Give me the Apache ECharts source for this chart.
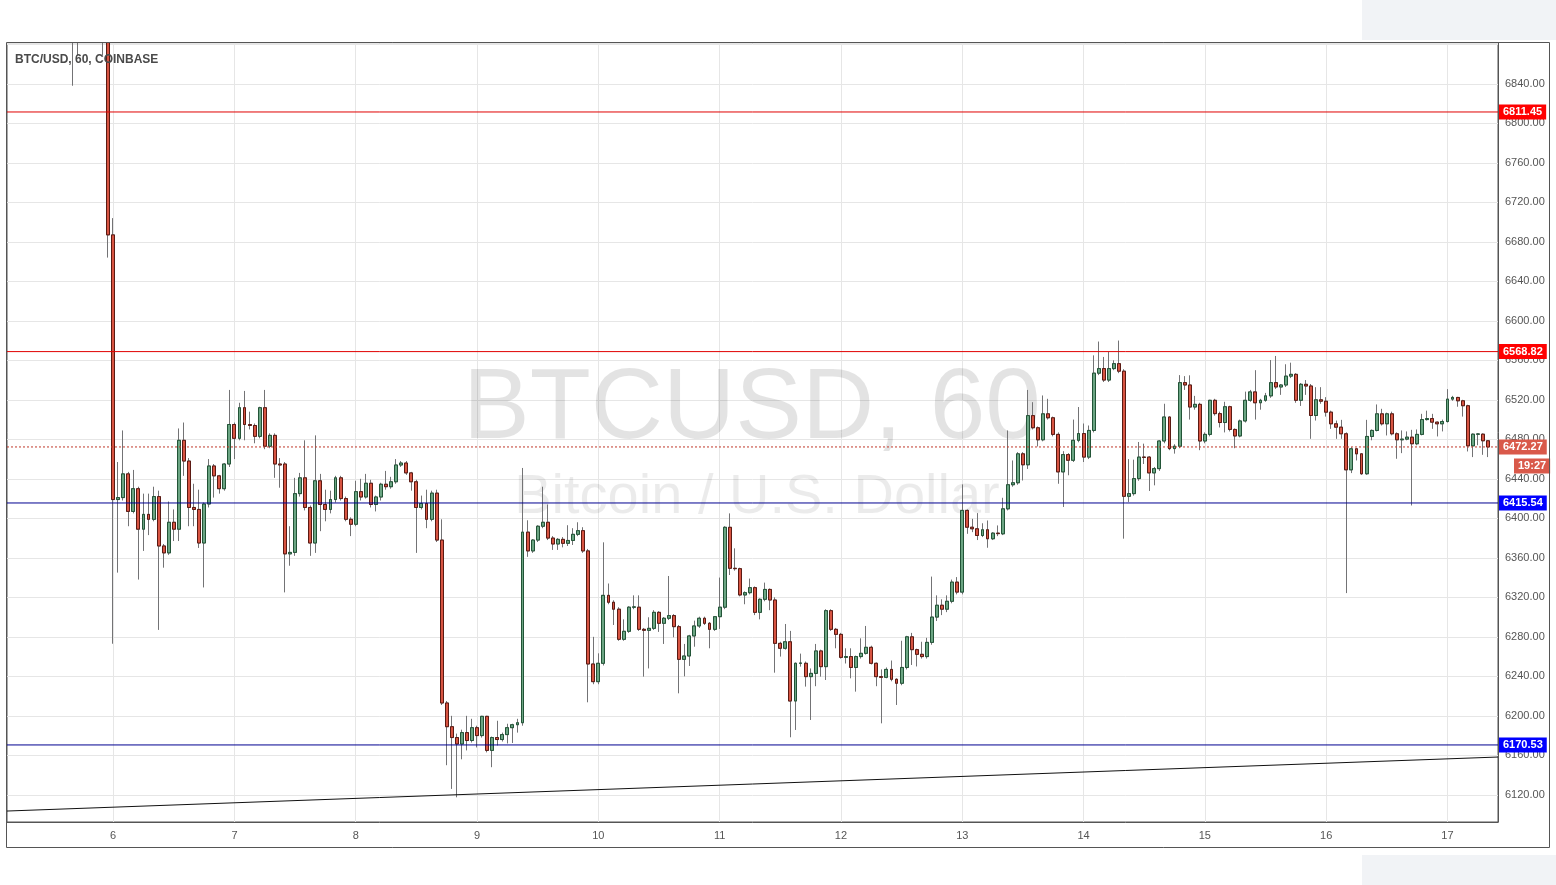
<!DOCTYPE html>
<html><head><meta charset="utf-8">
<script src="https://cdn.jsdelivr.net/npm/echarts@6/dist/echarts.min.js"></script>
<style>html,body{margin:0;padding:0;background:#fff;}#c{width:1556px;height:885px;}</style>
</head><body><div id="c"></div>
<script>
// hourly slots starting at day 5 03:00
const startDay = 5, startHour = 3, slotCount = 296;
const categories = [];
for (let k = 0; k < slotCount; k++) {
  const t = startHour + k;
  categories.push((startDay + Math.floor(t / 24)) + ' ' + String(t % 24).padStart(2, '0') + ':00');
}
// [open, close, low, high]
const ohlc = [
[7385,7370,7355,7400],[7370,7380,7360,7395],[7380,7360,7350,7390],[7360,7365,7345,7378],
[7365,7340,7330,7372],[7340,7352,7332,7360],[7352,7335,7325,7360],[7335,7310,7300,7345],
[7310,7320,7300,7330],[7320,7290,7280,7325],[7290,7260,7250,7300],[7260,7200,7190,7270],
[7200,7060,7040,7210],[7060,6960,6838,7070],[6960,6990,6869,7010],[6990,6975,6955,7000],
[6975,6985,6960,6995],[6985,6960,6950,6990],[6960,6970,6945,6980],[6970,6950,6869,6985],
[6950,6687,6664,6955],
[6687,6419,6273,6704],[6419,6421,6345,6457],[6421,6445,6418,6489],[6445,6407,6392,6447],
[6407,6430,6405,6449],[6430,6389,6338,6432],[6389,6404,6367,6425],[6404,6399,6383,6425],
[6399,6422,6397,6432],[6422,6372,6287,6428],[6372,6365,6350,6374],[6365,6396,6363,6417],
[6396,6389,6377,6409],[6389,6479,6377,6491],[6479,6458,6443,6497],[6458,6411,6392,6461],
[6411,6409,6392,6435],[6409,6375,6370,6429],[6375,6414.5,6330,6416],[6414.5,6453,6411,6460],
[6453,6443,6421,6455],[6443,6430,6425,6444],[6430,6455,6428,6456],[6455,6495,6452,6530],
[6495,6481,6460,6497],[6481,6512,6479,6517],[6512,6495,6479,6529],[6495,6494,6490,6508],
[6494,6483,6476,6496],[6483,6512,6481,6513],[6512,6473,6470,6530],[6473,6484,6471,6486],
[6484,6455,6441,6486],[6455,6454,6431,6461],[6455,6364,6325,6457],[6364,6365.5,6352,6392],
[6365.5,6425,6362,6441],[6425,6441,6422,6446],[6441,6411,6408,6479],[6411,6375,6362,6413],
[6375,6438,6365,6484],[6438,6414,6387,6445],[6414,6409,6397,6429],[6409,6419,6405,6428],
[6419,6441,6416,6443],[6441,6420,6418,6443],[6420,6399,6397,6422],[6399,6394,6382,6401],
[6394,6427,6392,6438],[6427,6421.6,6418,6440],[6421.6,6435.5,6420,6445],[6435.5,6414,6411,6439],
[6414,6421.6,6407,6423],[6421.6,6434.5,6418,6436],[6434.5,6432,6429,6448],[6432,6437,6430,6442],
[6437,6454,6435,6460],[6454,6456,6452,6458],[6456,6446,6444,6458],[6446,6437,6428,6447],
[6437,6411,6365,6439],[6411,6415,6409,6423],[6415,6399,6390,6429],[6399,6425.5,6397,6428],
[6425.5,6378,6376,6429],[6378,6213,6211,6399],[6213,6189,6150,6215],[6189,6178,6126,6200],
[6178,6171.5,6117.5,6182],[6171.5,6183,6156,6186],[6183,6175,6165,6200],[6175,6188,6173,6197],
[6188,6180,6168,6190],[6180,6199.5,6178,6200],[6199.5,6165,6163,6200],[6165,6178,6148,6179],
[6178,6176,6170,6195],[6176,6181,6174,6183],[6181,6188,6172,6192],[6188,6191,6172.5,6192],
[6191,6193,6183,6197],[6193,6386,6190,6451],[6386,6367,6361,6398],[6367,6378,6365,6379],
[6378,6392,6376,6393],[6392,6396,6390,6432],[6396,6380,6378,6414],[6380,6374,6368,6382],
[6374,6378.7,6368,6380],[6378.7,6374.7,6370.6,6381],[6374.7,6377.6,6372,6393],[6377.6,6383.8,6373,6390],
[6383.8,6387.5,6382,6396],[6387.5,6367,6365,6391],[6367,6252.5,6213.7,6369],[6252.5,6234.6,6232,6280],
[6234.6,6253.2,6232,6263.3],[6253.2,6322,6251,6375.7],[6322,6315,6313,6334],[6315,6308,6292,6317],
[6308,6277.5,6276,6310],[6277.5,6285.6,6276,6297.7],[6285.6,6310,6284,6311],[6310,6310.3,6308,6322],
[6310,6287.6,6286,6322],[6287.6,6286.6,6239.7,6289],[6286.6,6288.6,6248,6299.8],[6288.6,6304.8,6287,6307],
[6304.8,6293.7,6285,6306],[6293.7,6298.8,6272.8,6300],[6298.8,6301.5,6297,6341.6],[6301.5,6290.3,6279.5,6303],
[6290.3,6257.2,6222.8,6292],[6257.2,6260.6,6240,6272.8],[6260.6,6280.9,6250.5,6282],[6280.9,6291,6270,6296.4],
[6291,6298.8,6289,6300.4],[6298.8,6293.7,6292,6300.4],[6293.7,6287.6,6268.4,6295],[6287.6,6300.4,6286,6301],
[6300.4,6310,6288,6340],[6310,6390.9,6308,6392],[6390.9,6349.4,6342.6,6405],[6349.4,6349,6347,6369.6],
[6349,6322.4,6321,6350],[6322.4,6324.7,6313,6326],[6324.7,6329.8,6323,6339],[6329.8,6304.8,6302,6331],
[6304.8,6318,6297.7,6319],[6318,6328,6316,6334.9],[6328,6317.3,6307,6329],[6317.3,6273.4,6243.7,6320],
[6273.4,6268.4,6260,6275],[6268.4,6275,6267,6293],[6275,6215,6178.3,6286],[6215,6253.2,6185.7,6254],
[6253.2,6253.5,6249.8,6263],[6253.2,6239.7,6229.6,6255],[6239.7,6243,6195.8,6248],[6243,6265.7,6230,6272.8],
[6265.7,6249.8,6239.7,6267],[6249.8,6306.5,6236.3,6307.9],[6306.5,6287.6,6286,6307.9],[6287.6,6282.5,6268.4,6289],
[6282.5,6259.2,6258,6284],[6259.2,6260,6253,6268.4],[6260,6249,6238,6268.4],[6249,6260,6224.5,6261],
[6260,6263.3,6258,6278.5],[6263.3,6269.4,6262,6291],[6269.4,6253.2,6252,6271],[6253.2,6239.7,6230,6254],
[6239.7,6239,6192.4,6247],[6239,6247,6238,6249],[6247,6237,6235,6256],[6237,6233,6211,6238],
[6233,6249,6231,6276],[6249,6280,6247,6281],[6280,6267,6251.5,6284],[6267,6262.3,6250,6268],
[6262.3,6260,6258,6275],[6260,6274.4,6258,6279],[6274.4,6300,6272,6341],[6300,6312,6296,6322],
[6312,6308,6302,6318],[6308,6316,6305,6322],[6316,6335.4,6314,6338],[6335.4,6325.3,6323,6340.5],
[6325.3,6408,6323,6434.3],[6408,6391,6384.3,6409],[6391,6389.4,6386,6399.5],[6389.4,6382.6,6378,6405.3],
[6382.6,6388.4,6381,6395],[6388.4,6379.3,6370.2,6397.8],[6379.3,6385,6378,6386],[6385,6384.5,6382,6392.8],
[6384.3,6409.6,6383,6420.8],[6409.6,6434,6408,6489],[6434,6436,6432,6458.6],[6436,6465.3,6434,6467],
[6465.3,6454.2,6438.3,6467],[6454.2,6504,6450,6530],[6504,6491.7,6490,6517.6],[6491.7,6479.5,6472.8,6493],
[6479.5,6505.8,6478,6524.4],[6505.8,6501.8,6500,6521],[6501.8,6485,6483,6503],[6485,6447,6435,6487],
[6447,6464.5,6411.5,6468],[6464.5,6458.8,6443.6,6466],[6458.8,6479,6457,6500],[6479,6485.8,6477,6512.7],
[6485.8,6462,6457,6496],[6462,6489,6460,6494],[6489,6547,6487,6565],[6547,6551.6,6545,6579],
[6551.6,6540,6538,6563.4],[6540,6551.6,6538,6568.4],[6551.6,6556.6,6550,6560],[6556.6,6549,6547,6580],
[6549,6422.3,6379.4,6551],[6422.3,6425,6416.6,6460],[6425,6440.2,6423,6459.4],[6440.2,6462,6438,6477.3],
[6462,6461.7,6455,6475.6],[6462,6446,6427.7,6463],[6446,6450.3,6433.4,6452],[6450.3,6478.3,6448,6479],
[6478.3,6502.6,6476,6516],[6502.6,6470.6,6469,6503],[6470.6,6473,6465.5,6475],[6473,6537.4,6471,6545],
[6537.4,6535,6530,6544],[6535,6512.7,6500,6544.8],[6512.7,6515.4,6510,6524],[6515.4,6478.3,6469,6517],
[6478.3,6485,6476,6487],[6485,6519.5,6483,6520],[6519.5,6506,6504,6521],[6506,6497,6492,6508],
[6497,6513,6487,6518],[6513,6490,6488,6514],[6490,6483.4,6471,6491],[6483.4,6498.6,6482,6500],
[6498.6,6519.5,6497,6528.3],[6519.5,6528,6518,6530],[6528,6517,6500,6550],[6517,6519.5,6510,6521],
[6519.5,6524,6518,6527],[6524,6537.4,6522,6560.3],[6537.4,6533,6531,6564.4],[6533,6535,6525,6536],
[6535,6544,6533,6556],[6544,6545.8,6542,6557.6],[6545.8,6519.5,6517,6547],[6519.5,6535.7,6513.8,6537],
[6535.7,6534,6525,6540],[6534,6504.1,6480.5,6536],[6504.1,6520,6499,6532.8],[6520,6518.6,6516,6532.8],
[6518.6,6507.5,6503,6522.7],[6507.5,6495.7,6490.6,6509],[6495.7,6492.3,6480.5,6499],[6492.3,6485.6,6480.5,6499.7],
[6485.6,6449.1,6324.3,6487],[6449.1,6470.4,6445.8,6472],[6470.4,6465.3,6458.6,6471],[6465.3,6445.1,6444,6466],
[6445.1,6482.9,6444,6499.7],[6482.9,6489,6479,6490],[6489,6505.8,6488,6515.3],[6505.8,6495.7,6494,6510.9],
[6495.7,6505.8,6483.9,6507],[6505.8,6485.6,6484,6508],[6485.6,6479.5,6460.3,6487],[6479.5,6480.2,6466,6489],
[6480.2,6482.2,6479,6488],[6482.2,6475.5,6413,6489.6],[6475.5,6485,6474,6490],[6485,6500,6484,6505.8],
[6500,6501,6499,6509],[6501,6497.4,6490.6,6505.8],[6497.4,6495.7,6482.9,6498],[6495.7,6498,6488,6500],
[6498,6520.7,6497,6530.8],[6520.7,6522.4,6519,6524],[6522.4,6519,6513,6523],[6519,6514,6503,6520],
[6514,6473.4,6467.7,6515],[6473.4,6485.2,6462,6486],[6485.2,6485.4,6474,6486],[6485.2,6478.5,6464.3,6486],
[6478.5,6472.27,6462,6479]
];
// horizontal levels
const levelPrices = [6811.45, 6568.82, 6415.54, 6170.53];
const levelLineColors = ['#e00000', '#e00000', '#000090', '#000090'];
const levelTagColors = ['#ff0000', '#ff0000', '#0000ff', '#0000ff'];
const lastPrice = 6472.27;
const countdown = '19:27';
// trend line end points [category index, price]
const trendStart = [0, 6103.6];
const trendEnd = [295, 6158.3];

const upFill = '#6ba583', upLine = '#225437', dnFill = '#d75442', dnLine = '#5b1a13', wickColor = '#737375';
const wickData = ohlc.map(r => [r[0], r[1], r[2], r[3]]);
const bodyData = ohlc.map(r => [r[0], r[1], Math.min(r[0], r[1]), Math.max(r[0], r[1])]);
const FONT = "'Liberation Sans', Arial, sans-serif";
const first = categories[0], last = categories[slotCount - 1];

function lineSeries(points, color, type, opacity, endLabel) {
  return { type: 'line', data: points, silent: true, z: 3, symbol: 'none', showSymbol: false, animation: false,
    clip: false, lineStyle: { color: color, width: 1, type: type, opacity: opacity },
    itemStyle: { color: color }, endLabel: endLabel || { show: false } };
}
function tag(bg, text, dx, dy) {
  return { show: true, distance: 1, offset: [dx || 0, dy || 0], formatter: () => text, color: '#fff', fontSize: 11,
    fontWeight: 'bold', fontFamily: FONT, backgroundColor: bg, padding: [2, 4, 2, 4], align: 'left', verticalAlign: 'middle' };
}
const extraSeries = levelPrices.map((p, i) =>
  lineSeries([[first, p], [last, p]], levelLineColors[i], 'solid', 1, tag(levelTagColors[i], p.toFixed(2))));
extraSeries.push(lineSeries([[first, lastPrice], [last, lastPrice]], '#c0392b', [2, 2], 1, tag('#d9594a', lastPrice.toFixed(2))));
extraSeries.push(lineSeries([[first, lastPrice], [last, lastPrice]], '#c0392b', 'solid', 0, tag('#d9594a', countdown, 15, 19)));
extraSeries.push(lineSeries([[categories[trendStart[0]], trendStart[1]], [categories[trendEnd[0]], trendEnd[1]]], '#111', 'solid', 1));

const chart = echarts.init(document.getElementById('c'));
chart.setOption({
  animation: false,
  backgroundColor: '#fff',
  title: { text: 'BTC/USD, 60, COINBASE', left: 10, top: 49,
    textStyle: { fontSize: 12, fontWeight: 'bold', color: '#4a4a4a', fontFamily: FONT } },
  graphic: [
    { type: 'text', z: 1, silent: true, style: { x: 752, y: 410, text: 'BTCUSD, 60', font: "100px 'Liberation Sans', Arial, sans-serif",
      fill: 'rgba(0,0,0,0.11)', textAlign: 'center', textVerticalAlign: 'middle' } },
    { type: 'text', z: 1, silent: true, style: { x: 757, y: 498, text: 'Bitcoin / U.S. Dollar', font: "56px 'Liberation Sans', Arial, sans-serif",
      fill: 'rgba(0,0,0,0.08)', textAlign: 'center', textVerticalAlign: 'middle' } },
    // page area above the chart frame (covers overflow of off-scale candles)
    { type: 'rect', z: 90, silent: true, shape: { x: 0, y: 0, width: 1556, height: 42 }, style: { fill: '#fff' } },
    { type: 'rect', z: 91, silent: true, shape: { x: 1362, y: 0, width: 194, height: 40 }, style: { fill: '#f1f3f6' } },
    { type: 'rect', z: 91, silent: true, shape: { x: 1362, y: 855, width: 194, height: 30 }, style: { fill: '#f1f3f6' } },
    { type: 'rect', z: 100, silent: true, shape: { x: 6.5, y: 42.5, width: 1543, height: 805 },
      style: { fill: 'none', stroke: '#555', lineWidth: 1 } }
  ],
  grid: { left: 7, right: 58, top: 43, bottom: 63, show: true, borderColor: '#555', borderWidth: 1, backgroundColor: 'transparent' },
  xAxis: {
    type: 'category', data: categories, boundaryGap: false,
    axisLine: { show: true, lineStyle: { color: '#555' } }, axisTick: { show: false },
    axisLabel: { interval: (i, v) => v.endsWith(' 00:00'), formatter: v => v.split(' ')[0],
      color: '#555', fontSize: 11, fontFamily: FONT, margin: 8 },
    splitLine: { show: true, interval: (i, v) => v.endsWith(' 00:00'), lineStyle: { color: '#e6e6e6' } }
  },
  yAxis: {
    type: 'value', position: 'right', min: 6092.5, max: 6881.3, minInterval: 40, maxInterval: 40,
    axisLine: { show: true, lineStyle: { color: '#555' } }, axisTick: { show: false },
    axisLabel: { color: '#555', fontSize: 11, fontFamily: FONT, margin: 7, showMinLabel: false, showMaxLabel: false,
      formatter: v => (v > 6860 || v < 6100) ? '' : v.toFixed(2) },
    splitLine: { show: true, lineStyle: { color: '#e6e6e6' } }
  },
  series: [
    { type: 'candlestick', name: 'wick', data: wickData, barWidth: 3.4, clip: true, silent: true,
      itemStyle: { color: wickColor, color0: wickColor, borderColor: wickColor, borderColor0: wickColor, borderWidth: 1 } },
    { type: 'candlestick', name: 'body', data: bodyData, barWidth: 3.4, clip: true, silent: true,
      itemStyle: { color: upFill, color0: dnFill, borderColor: upLine, borderColor0: dnLine, borderWidth: 1 } }
  ].concat(extraSeries)
});
</script></body></html>
